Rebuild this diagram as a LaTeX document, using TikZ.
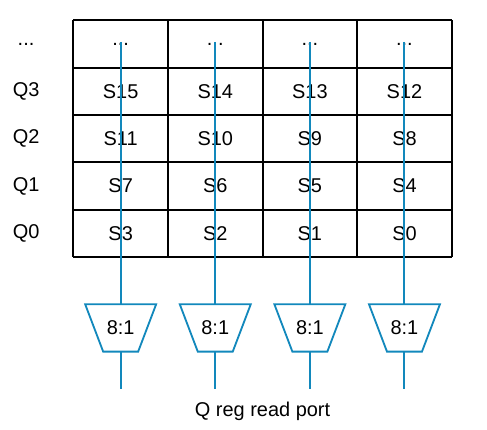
\documentclass[tikz,border=0pt]{standalone}
\usepackage{fontspec}
\setmainfont{Liberation Sans}
\definecolor{portblue}{RGB}{18,136,188}

\begin{document}
\begin{tikzpicture}[every node/.style={font=\fontsize{12}{14}\selectfont},
  muxbox/.style={minimum width=1.5cm, minimum height=1cm, inner sep=0pt, outer sep=0pt},
  muxline/.style={draw=portblue, line width=1.1pt, line join=miter}]
\useasboundingbox (-1.551,-3.657) rectangle (8.745,5.433);

%the register grid
\draw [black, line width=1.2pt, xstep=2, ystep=1] (0,0) grid (8,5);

%the row labels
\draw (-1, 4.5) node (qdots) {...};
\draw (-1, 3.5) node (q3) {Q3};
\draw (-1, 2.5) node (q2) {Q2};
\draw (-1, 1.5) node (q1) {Q1};
\draw (-1, 0.5) node (q0) {Q0};

%the cells
\draw (1, 4.5) node (d3) {...};
\draw (3, 4.5) node (d2) {...};
\draw (5, 4.5) node (d1) {...};
\draw (7, 4.5) node (d0) {...};

\draw (1, 3.5) node (s15) {S15};
\draw (3, 3.5) node (s14) {S14};
\draw (5, 3.5) node (s13) {S13};
\draw (7, 3.5) node (s12) {S12};

\draw (1, 2.5) node (s11) {S11};
\draw (3, 2.5) node (s10) {S10};
\draw (5, 2.5) node (s9) {S9};
\draw (7, 2.5) node (s8) {S8};

\draw (1, 1.5) node (s7) {S7};
\draw (3, 1.5) node (s6) {S6};
\draw (5, 1.5) node (s5) {S5};
\draw (7, 1.5) node (s4) {S4};

\draw (1, 0.5) node (s3) {S3};
\draw (3, 0.5) node (s2) {S2};
\draw (5, 0.5) node (s1) {S1};
\draw (7, 0.5) node (s0) {S0};

%the muxes
\node [muxbox] (mux3) at (1, -1.5) {8:1};
\node [muxbox] (mux2) at (3, -1.5) {8:1};
\node [muxbox] (mux1) at (5, -1.5) {8:1};
\node [muxbox] (mux0) at (7, -1.5) {8:1};

\draw [muxline] (mux3.north west) -- (mux3.north east) -- ([xshift=-0.38cm]mux3.south east) -- ([xshift=0.38cm]mux3.south west) -- cycle;
\draw [muxline] (mux2.north west) -- (mux2.north east) -- ([xshift=-0.38cm]mux2.south east) -- ([xshift=0.38cm]mux2.south west) -- cycle;
\draw [muxline] (mux1.north west) -- (mux1.north east) -- ([xshift=-0.38cm]mux1.south east) -- ([xshift=0.38cm]mux1.south west) -- cycle;
\draw [muxline] (mux0.north west) -- (mux0.north east) -- ([xshift=-0.38cm]mux0.south east) -- ([xshift=0.38cm]mux0.south west) -- cycle;

%the read lines
\coordinate (top3) at (1, 4.55);
\coordinate (top2) at (3, 4.55);
\coordinate (top1) at (5, 4.55);
\coordinate (top0) at (7, 4.55);
\coordinate (out3) at (1, -2.8);
\coordinate (out2) at (3, -2.8);
\coordinate (out1) at (5, -2.8);
\coordinate (out0) at (7, -2.8);

\draw [-, portblue, line width=1.2pt] (top3) -- (mux3.north);
\draw [-, portblue, line width=1.2pt] (top2) -- (mux2.north);
\draw [-, portblue, line width=1.2pt] (top1) -- (mux1.north);
\draw [-, portblue, line width=1.2pt] (top0) -- (mux0.north);
\draw [-, portblue, line width=1.2pt] (mux3.south) -- (out3);
\draw [-, portblue, line width=1.2pt] (mux2.south) -- (out2);
\draw [-, portblue, line width=1.2pt] (mux1.south) -- (out1);
\draw [-, portblue, line width=1.2pt] (mux0.south) -- (out0);

\draw (4, -3.26) node (port) {Q reg read port};
\end{tikzpicture}
\end{document}
